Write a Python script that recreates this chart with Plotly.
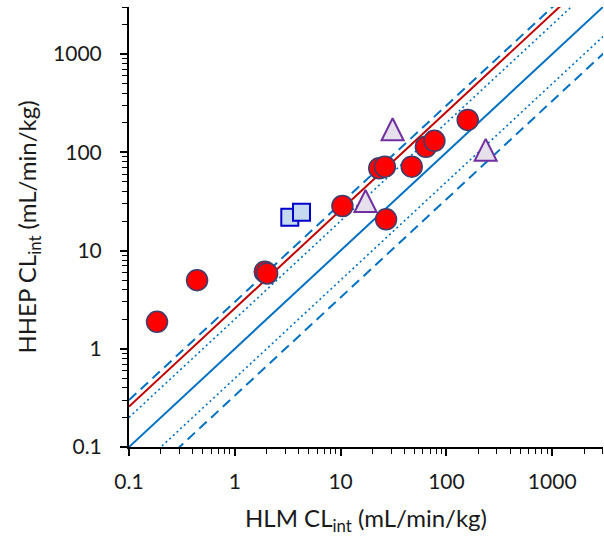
import plotly.graph_objects as go

# HLM vs HHEP intrinsic clearance (mL/min/kg)
circle_hlm = [0.184, 0.44, 1.92, 2.02, 10.4, 23.2, 26.2, 26.9, 47, 64, 77, 159]
circle_hhep = [1.88, 5.0, 6.08, 5.85, 28.4, 69, 71.5, 20.8, 71.5, 114, 131, 214]

triangle_hlm = [31, 17.2, 235]
triangle_hhep = [172, 32, 106]

square_hlm = [3.31, 4.27]
square_hhep = [21.8, 24.5]

# reference lines y = k * x
line_x = [0.1, 3100]
unity = 1.0
fold2 = [2.0, 0.5]
fold3 = [3.0, 1 / 3]
fit_factor = 2.58

tick_vals = [0.1, 1, 10, 100, 1000]
tick_text = ["0.1", "1", "10", "100", "1000"]

BLUE = "#0070C0"
RED = "#C00000"
TEXT = "#1a1a1a"
TRI_SIZE = 22

fig = go.Figure()


def ref_line(k, color, dash, width):
    fig.add_trace(go.Scatter(
        x=line_x, y=[k * v for v in line_x], mode="lines",
        line=dict(color=color, dash=dash, width=width),
        hoverinfo="skip", showlegend=False))


for k in fold3:
    ref_line(k, BLUE, "10px,6px", 2)
for k in fold2:
    ref_line(k, BLUE, "2px,3px", 1.6)
ref_line(unity, BLUE, "solid", 2)
ref_line(fit_factor, RED, "solid", 2)

fig.add_trace(go.Scatter(
    x=circle_hlm, y=circle_hhep, mode="markers",
    marker=dict(symbol="circle", size=21, color="#FF0000",
                line=dict(color="#3F3D6B", width=1.5)),
    showlegend=False))
# flipped arrow head: upright triangle as tall as wide, shifted so the point sits mid-height
fig.add_trace(go.Scatter(
    x=triangle_hlm, y=triangle_hhep, mode="markers",
    marker=dict(symbol="arrow-down", angle=180, size=TRI_SIZE,
                standoff=TRI_SIZE / 2, color="#E6E0EC",
                line=dict(color="#7030A0", width=2)),
    showlegend=False))
fig.add_trace(go.Scatter(
    x=square_hlm, y=square_hhep, mode="markers",
    marker=dict(symbol="square", size=17, color="#C5D9F1",
                line=dict(color="#0000CC", width=2)),
    showlegend=False))

axis_common = dict(
    type="log", range=[-1, 3.48],
    tickvals=tick_vals, ticktext=tick_text,
    showline=True, linecolor="black", linewidth=2,
    ticks="outside", ticklen=7, tickwidth=1.5, tickcolor="black",
    minor=dict(ticks="outside", ticklen=5, tickwidth=1.2, tickcolor="black",
               showgrid=False, dtick="D1"),
    showgrid=False, zeroline=False,
    tickfont=dict(size=21, color=TEXT),
    mirror=False,
)

fig.update_xaxes(**axis_common, ticklabelstandoff=8,
                 title=dict(text="HLM CL<sub>int</sub> (mL/min/kg)",
                            font=dict(size=24, color=TEXT), standoff=18))
fig.update_yaxes(**axis_common, ticklabelstandoff=14,
                 title=dict(text="HHEP CL<sub>int</sub> (mL/min/kg)",
                            font=dict(size=24, color=TEXT), standoff=10))

fig.update_layout(
    width=604, height=541,
    margin=dict(l=129, r=1, t=7, b=94),
    paper_bgcolor="white", plot_bgcolor="white",
    font=dict(family="Lato, Liberation Sans, sans-serif"),
)

fig.write_html("out.html")
